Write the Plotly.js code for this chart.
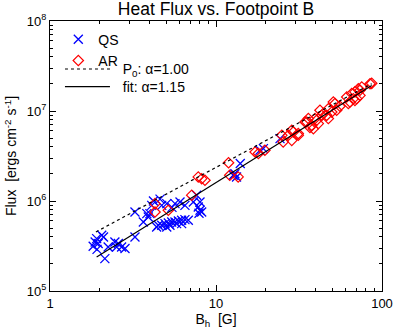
<!DOCTYPE html>
<html>
<head>
<meta charset="utf-8">
<script src="https://cdn.plot.ly/plotly-3.0.1.min.js"></script>
<style>html,body{margin:0;padding:0;background:#fff;}#chart{width:395px;height:330px;}</style>
</head>
<body>
<div id="chart"></div>
<script>
// Quiet Sun (QS) points: footpoint field B_h [G] and heat flux [erg cm^-2 s^-1]
var qsB = [1.87,1.91,1.95,2.05,2.10,1.82,1.92,2.14,2.24,2.46,2.52,2.58,2.70,2.83,3.25,3.25,3.83,3.65,3.91,4.10,4.00,4.20,4.60,
  4.71,5.05,5.66,6.07,6.50,7.30,8.01,7.82,8.01,8.20,7.90,7.65,5.43,
  4.39,4.49,4.71,4.93,5.16,5.41,5.66,5.93,6.21,6.50,6.81,5.79,5.28,5.05,6.21,
  12.7,13.3,14.0,13.0,18.4,19.3,24.3];
var qsFlux = [3.50e5,3.82e5,3.37e5,4.16e5,3.98e5,3.14e5,2.90e5,2.29e5,3.08e5,3.50e5,3.08e5,3.37e5,3.08e5,2.96e5,3.98e5,7.55e5,7.24e5,5.85e5,6.64e5,8.95e5,7.24e5,1.00e6,1.05e6,
  8.95e5,9.35e5,9.35e5,9.75e5,8.95e5,9.75e5,9.75e5,8.58e5,7.89e5,7.55e5,7.30e5,1.16e6,8.50e5,
  5.14e5,5.37e5,5.37e5,5.61e5,5.70e5,5.85e5,5.85e5,6.00e5,6.11e5,6.21e5,6.11e5,5.61e5,5.37e5,5.14e5,5.61e5,
  1.93e6,1.85e6,2.61e6,2.01e6,3.66e6,3.82e6,4.93e6];
// Active Region (AR) points
var arB = [4.29,4.29,5.16,7.14,7.82,8.20,8.58,11.9,12.1,13.6,17.2,18.0,19.7,24.9,25.4,28.6,28.6,31.3,29.2,31.3,
  34.4,35.2,36.0,37.7,36.8,38.6,39.5,41.3,42.3,43.3,44.3,46.4,47.5,47.5,49.8,50.9,52.1,53.3,
  61.3,62.7,64.1,65.7,67.2,68.7,70.4,72.0,73.7,75.5,68.7,84.7,86.7,27.3,73.7,55.8,40.4];
var arFlux = [9.35e5,7.55e5,7.89e5,1.16e6,1.85e6,1.77e6,1.70e6,2.66e6,1.93e6,1.85e6,3.50e6,3.37e6,3.66e6,5.37e6,4.53e6,6.11e6,4.72e6,5.37e6,5.85e6,5.61e6,
  7.55e6,7.55e6,8.24e6,6.93e6,6.55e6,6.37e6,8.24e6,7.24e6,1.02e7,8.95e6,9.35e6,8.95e6,8.24e6,1.06e7,9.75e6,1.26e7,1.21e7,1.02e7,
  1.43e7,1.21e7,1.26e7,1.56e7,1.37e7,1.63e7,1.37e7,1.77e7,1.70e7,1.85e7,1.31e7,2.01e7,2.03e7,5.37e6,1.49e7,1.13e7,7.89e6];
// Power-law lines (end points)
var p0B = [1.89, 86.7];
var p0Flux = [4.53e5, 2.01e7];
var fitB = [1.91, 86.7];
var fitFlux = [2.39e5, 1.92e7];
// Axis ticks
var xTickVals = [1, 10, 100];
var xTickText = ['1', '10', '100'];
var yTickVals = [1e5, 1e6, 1e7, 1e8];
var yTickText = ['10<sup>5</sup>', '10<sup>6</sup>', '10<sup>7</sup>', '10<sup>8</sup>'];
var xMinor = [2,3,4,5,6,7,8,9,20,30,40,50,60,70,80,90];
var yMinor = [2e5,3e5,4e5,5e5,6e5,7e5,8e5,9e5,2e6,3e6,4e6,5e6,6e6,7e6,8e6,9e6,2e7,3e7,4e7,5e7,6e7,7e7,8e7,9e7];

var font = 'Liberation Sans, Arial, Helvetica, sans-serif';

var traces = [
  {x: qsB, y: qsFlux, type: 'scatter', mode: 'markers', name: 'QS', legend: 'legend',
   marker: {symbol: 'x-thin-open', size: 9, color: '#0000ff', line: {color: '#0000ff', width: 1.3}}},
  {x: arB, y: arFlux, type: 'scatter', mode: 'markers', name: 'AR', legend: 'legend',
   marker: {symbol: 'diamond-open', size: 8, color: '#ff0000', line: {color: '#ff0000', width: 1.2}}},
  {x: p0B, y: p0Flux, type: 'scatter', mode: 'lines', name: '\u00a0\u00a0P<sub>0</sub>: \u03b1=1.00', legend: 'legend2',
   line: {color: '#000', width: 1.2, dash: '3px,3px'}},
  {x: fitB, y: fitFlux, type: 'scatter', mode: 'lines', name: '\u00a0\u00a0fit: \u03b1=1.15', legend: 'legend3',
   line: {color: '#000', width: 1.2}}
];

var axisCommon = {
  type: 'log', showgrid: false, zeroline: false, showline: true, linecolor: '#000', linewidth: 1,
  mirror: 'allticks', ticks: 'inside', ticklen: 6, tickcolor: '#000', tickwidth: 1,
  tickmode: 'array', tickfont: {family: font, size: 13, color: '#000'},
  minor: {tickmode: 'array', ticks: 'inside', ticklen: 3, tickcolor: '#000', tickwidth: 1, showgrid: false}
};

var xaxis = Object.assign({}, axisCommon, {
  range: [0, 2], tickvals: xTickVals, ticktext: xTickText,
  title: {text: 'B<sub>h</sub>  [G]', font: {family: font, size: 14, color: '#000'}, standoff: 4}
});
xaxis.minor = Object.assign({}, axisCommon.minor, {tickvals: xMinor});
var yaxis = Object.assign({}, axisCommon, {
  range: [5, 8], tickvals: yTickVals, ticktext: yTickText,
  title: {text: 'Flux  [ergs cm<sup>-2</sup> s<sup>-1</sup>]', font: {family: font, size: 14, color: '#000'}, standoff: 6}
});
yaxis.minor = Object.assign({}, axisCommon.minor, {tickvals: yMinor});

var legendCommon = {xanchor: 'left', yanchor: 'top', bgcolor: 'rgba(0,0,0,0)', borderwidth: 0,
  font: {family: font, size: 14, color: '#000'}, tracegroupgap: 0};

var layout = {
  width: 395, height: 330,
  margin: {l: 50, r: 13, t: 21, b: 39},
  paper_bgcolor: '#fff', plot_bgcolor: '#fff',
  title: {text: 'Heat Flux vs. Footpoint B', font: {family: font, size: 17.5, color: '#000'}, x: 0.547, xanchor: 'center', y: 0.993, yanchor: 'top'},
  xaxis: xaxis, yaxis: yaxis,
  legend: Object.assign({}, legendCommon, {x: 0.025, y: 0.99, itemwidth: 30}),
  legend2: Object.assign({}, legendCommon, {x: 0.03, y: 0.88, itemwidth: 45}),
  legend3: Object.assign({}, legendCommon, {x: 0.03, y: 0.815, itemwidth: 45}),
  showlegend: true
};

Plotly.newPlot('chart', traces, layout, {displayModeBar: false, staticPlot: true});
</script>
</body>
</html>
